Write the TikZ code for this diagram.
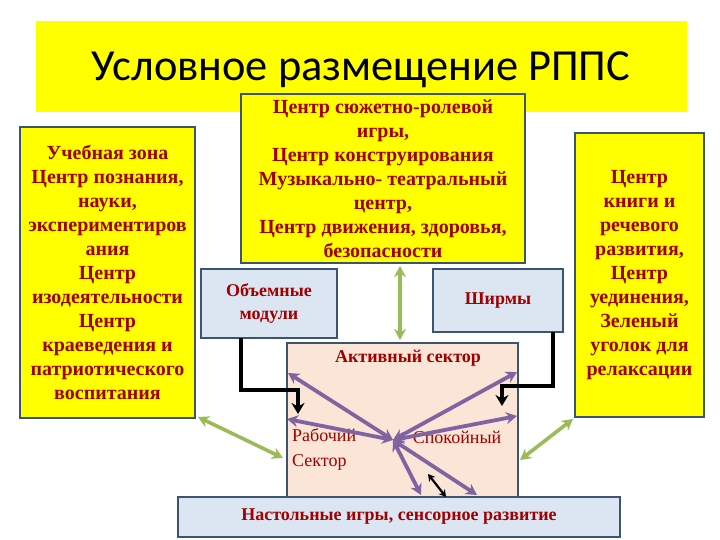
\documentclass[tikz,border=0pt]{standalone}
\usepackage{fontspec}
\setmainfont{Liberation Serif}
\newfontfamily\titlefont{Carlito}
\usetikzlibrary{arrows.meta,calc}
\definecolor{ttl}{HTML}{FFFF00}
\definecolor{edge}{HTML}{3B5472}
\definecolor{txtred}{HTML}{A00000}
\definecolor{lblue}{HTML}{DCE6F2}
\definecolor{peach}{HTML}{FBE5D6}
\definecolor{purp}{HTML}{8064A2}
\definecolor{grn}{HTML}{9BBB59}
\tikzset{
  zonebox/.style={draw=edge, line width=1.8pt, fill=ttl, align=center, inner sep=0pt,
    text=txtred, font=\fontsize{20}{24}\selectfont\bfseries},
  bluebox/.style={draw=edge, line width=1.8pt, fill=lblue, align=center, inner sep=0pt,
    text=txtred, font=\fontsize{18}{23}\selectfont\bfseries},
  plainlbl/.style={text=txtred, inner sep=0pt, font=\fontsize{18}{25}\selectfont},
  boldlbl/.style={text=txtred, inner sep=0pt, font=\fontsize{18}{24}\selectfont\bfseries},
  purparrow/.style={purp, line width=3.8pt, {Stealth[length=11pt,width=12pt]}-{Stealth[length=11pt,width=12pt]}},
  grnarrow/.style={grn, line width=3.6pt, {Stealth[length=11pt,width=12pt]}-{Stealth[length=11pt,width=12pt]}},
  blkarrow/.style={black, line width=4pt, -{Stealth[length=11pt,width=13pt]}},
  blkdbl/.style={black, line width=2.2pt, {Stealth[length=7pt,width=8pt]}-{Stealth[length=7pt,width=8pt]}},
}
\begin{document}
\begin{tikzpicture}[x=1pt,y=-1pt]
\useasboundingbox[fill=white] (0,0) rectangle (720,540);

% title band
\node[fill=ttl, minimum width=651pt, minimum height=91pt, inner sep=0pt] (title) at (361.5,66.5) {};
\node[font=\titlefont\fontsize{44.4}{48}\selectfont, inner sep=0pt] (titletext) at (361,70) {Условное размещение РППС};

% side and centre zones
\node[zonebox, minimum width=175pt, minimum height=291pt] (left) at (107.5,272.5)
  {\raisebox{-4pt}{\parbox{174pt}{\centering Учебная зона\\ Центр познания,\\ науки,\\ экспериментиров\\ ания\\ Центр\\ изодеятельности\\ Центр\\ краеведения и\\ патриотического\\ воспитания}}};
\node[zonebox, minimum width=284pt, minimum height=169pt] (center) at (383,178.5)
  {Центр сюжетно-ролевой\\ игры,\\ Центр конструирования\\ Музыкально- театральный\\ центр,\\ Центр движения, здоровья,\\ безопасности};
\node[zonebox, minimum width=129pt, minimum height=284pt] (right) at (639.5,275)
  {\raisebox{-3pt}{\parbox{128pt}{\centering Центр\\ книги и\\ речевого\\ развития,\\ Центр\\ уединения,\\ Зеленый\\ уголок для\\ релаксации}}};

% furniture boxes
\node[bluebox, minimum width=136pt, minimum height=69pt] (modules) at (269,303.5) {Объемные\\ модули};
\node[bluebox, minimum width=130pt, minimum height=63pt] (screens) at (498,300.5) {Ширмы};

% active sector
\node[draw=edge, line width=1.8pt, fill=peach, minimum width=231pt, minimum height=160pt, inner sep=0pt]
  (active) at (402.5,423) {};
\node[boldlbl] (activelbl) at (408,358) {Активный сектор};
\node[plainlbl, align=left, anchor=west] (work) at (292,449.5) {Рабочий\\ Сектор};
\node[plainlbl] (calm) at (457,437) {Спокойный};

% bottom box
\node[bluebox, minimum width=442pt, minimum height=40pt, font=\fontsize{18}{20}\selectfont\bfseries]
  (bottom) at (399,517) {Настольные игры, сенсорное развитие};

% purple arrows from the hub
\coordinate (hub) at (393,440);
\coordinate (pA) at (288,373);
\coordinate (pB) at (517,372);
\coordinate (pC) at (287,419);
\coordinate (pD) at (517,416);
\coordinate (pE) at (421,495);
\coordinate (pF) at (477,495);
\foreach \t in {pA,pB,pC,pD,pE,pF} \draw[purparrow] (hub) -- (\t);

% small black double arrow
\coordinate (bk1) at (428,474);
\coordinate (bk2) at (446,497);
\draw[blkdbl] (bk1) -- (bk2);

% black elbow arrows
\coordinate (mStart) at (241,338);
\coordinate (mBend) at (241,390);
\coordinate (mEnd) at (298,414);
\coordinate (sStart) at (553,332);
\coordinate (sBend) at (553,386);
\coordinate (sEnd) at (502,406);
\draw[blkarrow, line join=miter] (mStart) -- (mBend) -| (mEnd);
\draw[blkarrow, line join=miter] (sStart) -- (sBend) -| (sEnd);

% green arrows
\coordinate (gV1) at (400,266);
\coordinate (gV2) at (400,340);
\draw[grnarrow] (gV1) -- (gV2);
\coordinate (gL1) at (198,417);
\coordinate (gL2) at (283,458);
\coordinate (gR1) at (573,419);
\coordinate (gR2) at (520,460);
\draw[grnarrow] (gL1) -- (gL2);
\draw[grnarrow] (gR1) -- (gR2);
\end{tikzpicture}
\end{document}
